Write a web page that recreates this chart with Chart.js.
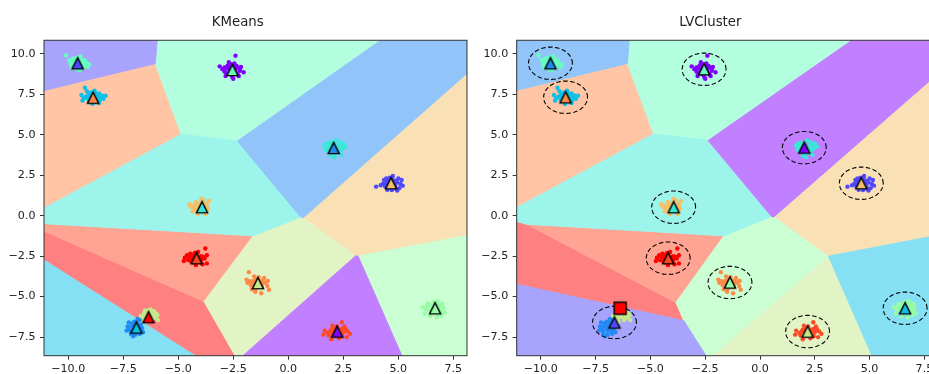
<!DOCTYPE html>
<html>
<head>
<meta charset="utf-8">
<script src="https://cdn.jsdelivr.net/npm/chart.js@4.4.1/dist/chart.umd.min.js"></script>
<style>
  html, body { margin: 0; padding: 0; background: #fff; overflow: hidden; width: 929px; height: 374px; }
  canvas { position: absolute; top: 0; }
  #km { left: 0; }
  #lv { left: 470px; }
</style>
</head>
<body>
<canvas id="km" width="475" height="374"></canvas>
<canvas id="lv" width="476" height="374"></canvas>
<script>
// ---- axes ----
const xLimits = [-11.10, 8.12];
const yLimits = [-8.65, 10.83];
const xTickValues = [-10, -7.5, -5, -2.5, 0, 2.5, 5, 7.5];
const xTickLabels = ['\u221210.0', '\u22127.5', '\u22125.0', '\u22122.5', '0.0', '2.5', '5.0', '7.5'];
const yTickValues = [-7.5, -5, -2.5, 0, 2.5, 5, 7.5, 10];
const yTickLabels = ['\u22127.5', '\u22125.0', '\u22122.5', '0.0', '2.5', '5.0', '7.5', '10.0'];

// rainbow colour per label 0..11
const palette = ['#8000ff', '#5148fc', '#238af5', '#0cc1e8', '#3ae8d7', '#68fcc1',
                 '#97fca7', '#c5e88a', '#f3c16a', '#ff8a48', '#ff4824', '#ff0000'];

// ---- samples, one array per true class ----
const class0 = [[-2.54,8.99],[-2.80,9.10],[-2.30,9.15],[-2.65,8.75],[-2.35,8.80],[-2.90,8.90],[-2.20,8.95],[-2.60,9.35],[-2.45,9.40],[-2.75,9.28],[-2.40,9.88],[-3.12,9.22],[-2.03,8.85],[-2.55,8.58],[-2.25,8.62],[-2.85,8.62],[-2.15,9.18],[-3.00,9.05],[-2.50,8.45],[-2.70,9.48],
                [-2.70,9.05],[-2.40,9.05],[-2.60,8.85],[-2.45,8.90],[-2.65,9.20],[-2.35,9.25],[-2.80,8.80],[-2.30,8.70],[-2.50,9.20],[-2.90,9.15],[-2.20,9.05],[-2.55,8.70]];
const class1 = [[4.67,2.00],[4.40,2.10],[4.90,2.15],[4.55,1.80],[4.85,1.75],[4.30,1.95],[5.10,1.95],[4.60,2.35],[4.75,2.45],[4.45,2.30],[5.15,2.20],[4.95,1.55],[4.50,1.60],[3.99,1.79],[4.20,1.88],[5.05,1.70],[4.80,2.05],[4.35,2.20],[4.70,1.58],[5.20,1.85],
                [4.55,2.05],[4.80,1.95],[4.60,1.90],[4.75,2.20],[4.45,2.00],[4.95,2.05],[4.65,2.15],[4.85,1.85],[4.40,1.80],[5.00,2.30],[4.55,2.20],[4.90,1.65]];
const class2 = [[-6.90,-6.91],[-7.10,-6.80],[-6.70,-6.75],[-7.20,-7.05],[-6.80,-7.15],[-7.00,-6.55],[-6.65,-6.95],[-7.30,-6.85],[-6.95,-7.35],[-7.15,-7.30],[-6.75,-6.45],[-6.60,-7.20],[-7.05,-7.45],[-7.25,-6.60],[-6.85,-6.38],[-7.35,-7.10],
                [-7.00,-6.95],[-6.80,-6.85],[-6.95,-7.10],[-6.85,-6.70],[-7.10,-6.65],[-6.70,-7.05],[-7.15,-7.15],[-6.90,-6.60],[-7.25,-6.90],[-6.75,-7.30],[-7.00,-6.75]];
const class3 = [[-8.87,7.28],[-9.10,7.40],[-8.65,7.45],[-9.30,7.25],[-8.95,7.60],[-8.70,7.05],[-9.05,7.05],[-8.50,7.30],[-9.40,7.45],[-9.24,7.90],[-8.80,7.72],[-8.30,7.41],[-8.55,7.15],[-9.15,7.68],[-8.90,6.90],[-8.60,6.95],[-9.35,7.10],[-8.40,7.22],[-8.75,7.55],[-9.00,7.35],
                [-8.95,7.20],[-8.80,7.35],[-9.05,7.50],[-8.70,7.25],[-9.20,7.35],[-8.60,7.55],[-8.85,7.10],[-9.10,7.20],[-8.65,7.30],[-8.95,7.45],[-8.45,7.40]];
const class4 = [[2.06,4.18],[1.80,4.30],[2.30,4.35],[1.90,3.95],[2.25,3.90],[1.70,4.10],[2.45,4.15],[2.05,4.55],[2.15,4.65],[1.85,4.50],[2.60,4.25],[2.40,3.75],[1.95,3.70],[2.10,3.60],[1.65,4.35],[2.50,4.45],[2.20,4.05],[1.90,4.20],
                [2.00,4.25],[2.15,4.10],[1.95,4.05],[2.25,4.25],[2.00,4.40],[2.35,4.05],[1.80,4.00],[2.10,3.85],[2.30,4.55],[1.75,4.45],[2.45,4.40]];
const class5 = [[-9.57,9.41],[-9.80,9.55],[-9.35,9.62],[-9.70,9.20],[-9.42,9.15],[-9.90,9.38],[-9.20,9.45],[-9.60,9.75],[-9.45,9.85],[-9.78,9.70],[-9.05,9.35],[-9.30,9.30],[-9.65,9.05],[-9.50,8.98],[-9.95,9.60],[-10.10,9.90],[-9.25,9.60],[-9.85,9.15],[-9.40,9.50],[-9.10,9.20],
                [-9.55,9.30],[-9.65,9.50],[-9.45,9.40],[-9.70,9.35],[-9.50,9.60],[-9.35,9.45],[-9.80,9.45],[-9.60,9.20],[-9.30,9.15],[-9.20,9.30],[-9.70,9.65]];
const class6 = [[6.67,-5.72],[6.40,-5.60],[6.90,-5.55],[6.25,-5.80],[6.55,-5.95],[6.85,-5.90],[6.10,-5.65],[7.05,-5.70],[6.60,-5.35],[6.80,-5.28],[6.35,-5.42],[7.00,-5.45],[6.45,-6.20],[6.75,-6.28],[6.20,-6.05],[7.10,-6.00],[6.95,-6.15],
                [6.60,-5.65],[6.75,-5.80],[6.50,-5.75],[6.80,-5.55],[6.55,-5.50],[6.90,-5.75],[6.65,-6.00],[6.40,-5.85],[6.95,-5.95],[6.30,-5.60],[6.70,-5.45]];
const class7 = [[-6.35,-6.27],[-6.55,-6.15],[-6.15,-6.10],[-6.60,-6.40],[-6.20,-6.45],[-6.40,-5.95],[-6.25,-5.80],[-6.05,-6.30],[-6.70,-6.20],[-5.95,-6.15],[-6.45,-6.55],[-6.50,-5.85],[-6.10,-5.90],[-5.92,-6.45],[-6.30,-6.05],
                [-6.30,-6.20],[-6.45,-6.30],[-6.25,-6.00],[-6.40,-6.10],[-6.15,-6.30],[-6.55,-6.00],[-6.35,-5.85],[-6.00,-6.05],[-6.60,-6.25]];
const class8 = [[-3.92,0.52],[-4.15,0.60],[-3.70,0.65],[-4.30,0.45],[-4.05,0.30],[-3.80,0.25],[-4.45,0.55],[-3.65,0.45],[-4.00,0.80],[-3.85,0.95],[-4.20,0.85],[-3.60,0.90],[-4.50,0.70],[-4.10,0.10],[-3.75,0.10],[-4.35,0.25],[-3.95,1.05],[-4.25,0.40],
                [-4.00,0.50],[-3.85,0.60],[-4.10,0.45],[-3.80,0.40],[-4.05,0.65],[-3.75,0.75],[-4.20,0.65],[-3.95,0.35],[-4.35,0.60],[-3.70,0.30],[-4.15,0.25]];
const class9 = [[-1.38,-4.17],[-1.60,-4.05],[-1.15,-4.00],[-1.70,-4.30],[-1.45,-4.45],[-1.20,-4.40],[-1.85,-4.15],[-0.93,-4.03],[-1.35,-3.80],[-1.55,-3.75],[-1.10,-3.85],[-1.79,-3.49],[-0.95,-4.35],[-1.50,-4.70],[-1.23,-4.79],[-0.88,-4.58],[-1.65,-4.55],[-1.90,-3.95],
                [-1.45,-4.10],[-1.30,-4.25],[-1.55,-4.25],[-1.25,-4.05],[-1.50,-3.95],[-1.20,-4.20],[-1.65,-4.15],[-1.35,-4.40],[-1.05,-4.15],[-1.40,-3.95],[-1.75,-4.05]];
const class10 = [[2.22,-7.16],[1.95,-7.05],[2.45,-7.00],[1.80,-7.25],[2.10,-7.40],[2.40,-7.35],[1.65,-7.10],[2.70,-7.15],[2.20,-6.85],[2.00,-6.80],[2.55,-6.85],[2.43,-6.58],[2.80,-7.30],[1.95,-7.64],[2.30,-7.58],[1.60,-7.35],[2.65,-7.50],[2.05,-7.30],
                 [2.15,-7.10],[2.30,-7.20],[2.05,-7.20],[2.35,-7.05],[2.10,-7.00],[2.50,-7.20],[1.90,-7.15],[2.25,-7.35],[2.60,-7.00],[1.85,-7.40],[2.45,-7.45]];
const class11 = [[-4.17,-2.63],[-4.40,-2.55],[-3.95,-2.50],[-4.55,-2.75],[-4.30,-2.90],[-4.00,-2.85],[-4.70,-2.60],[-3.80,-2.65],[-4.25,-2.30],[-4.10,-2.25],[-4.45,-2.35],[-3.70,-2.45],[-4.75,-2.80],[-4.20,-3.05],[-3.90,-3.00],[-3.77,-2.03],[-3.70,-2.95],[-4.60,-2.45],
                 [-4.25,-2.60],[-4.10,-2.70],[-4.35,-2.65],[-4.05,-2.55],[-4.30,-2.45],[-3.95,-2.70],[-4.50,-2.60],[-4.15,-2.85],[-3.85,-2.55],[-4.40,-2.85],[-4.20,-2.45]];
const samplesByClass = [class0, class1, class2, class3, class4, class5, class6, class7, class8, class9, class10, class11];

// ---- KMeans centres, indexed by predicted label ----
const kmeansCenters = [[2.22,-7.16],[-9.57,9.41],[2.06,4.18],[-6.90,-6.91],[-3.92,0.52],[-2.54,8.99],
                       [6.67,-5.72],[-1.38,-4.17],[4.67,2.00],[-8.87,7.28],[-4.17,-2.63],[-6.35,-6.27]];
const kmeansRadii = [0,0,0,0,0,0,0,0,0,0,0,0];

// ---- LVCluster centres and radii, indexed by predicted label ----
const lvCenters = [[2.02,4.20],[-6.64,-6.60],[-9.56,9.41],[6.62,-5.72],[-3.94,0.52],[-2.55,9.04],
                   [-1.37,-4.13],[2.17,-7.16],[4.62,2.00],[-8.87,7.31],[-4.19,-2.63],[-6.38,-5.72]];
const lvRadii = [1.0,1.0,1.0,1.0,1.0,1.0,1.0,1.0,1.0,1.0,1.0,0];

// ---- helpers ----
function overWhite(hex, a) {
  const n = parseInt(hex.slice(1), 16);
  const r = (n >> 16) & 255, g = (n >> 8) & 255, b = n & 255;
  const m = v => Math.round(v * a + 255 * (1 - a));
  return `rgb(${m(r)},${m(g)},${m(b)})`;
}

// half-plane clip: keep points with a*x + b*y <= c
function clipPoly(poly, a, b, c) {
  const out = [];
  for (let k = 0; k < poly.length; k++) {
    const P = poly[k], Q = poly[(k + 1) % poly.length];
    const fP = a * P[0] + b * P[1] - c, fQ = a * Q[0] + b * Q[1] - c;
    if (fP <= 0) out.push(P);
    if ((fP < 0 && fQ > 0) || (fP > 0 && fQ < 0)) {
      const t = fP / (fP - fQ);
      out.push([P[0] + t * (Q[0] - P[0]), P[1] + t * (Q[1] - P[1])]);
    }
  }
  return out;
}

// decision cell of label i: power distance |p-c|^2 - r^2 is smallest
function decisionCell(i, centers, radii) {
  let poly = [[xLimits[0], yLimits[0]], [xLimits[1], yLimits[0]], [xLimits[1], yLimits[1]], [xLimits[0], yLimits[1]]];
  const [cx, cy] = centers[i];
  centers.forEach(([qx, qy], j) => {
    if (j === i || poly.length === 0) return;
    const a = 2 * (qx - cx), b = 2 * (qy - cy);
    const c = qx * qx + qy * qy - cx * cx - cy * cy - radii[j] * radii[j] + radii[i] * radii[i];
    poly = clipPoly(poly, a, b, c);
  });
  return poly;
}

function markerIcon(color, shape) {
  const cv = document.createElement('canvas');
  cv.width = 18; cv.height = 18;
  const g = cv.getContext('2d');
  g.beginPath();
  if (shape === 'square') {
    g.rect(3, 3, 12, 12);
  } else {
    g.moveTo(9, 3.4); g.lineTo(3.4, 14.6); g.lineTo(14.6, 14.6); g.closePath();
  }
  g.fillStyle = color; g.fill();
  g.lineWidth = 1.4; g.strokeStyle = '#000'; g.lineJoin = 'miter'; g.stroke();
  return cv;
}

function circleOutline([cx, cy], r) {
  const pts = [];
  for (let k = 0; k <= 96; k++) {
    const t = (k / 96) * 2 * Math.PI;
    pts.push({ x: cx + r * Math.cos(t), y: cy + r * Math.sin(t) });
  }
  return pts;
}

const framePlugin = {
  id: 'frame',
  afterDatasetsDraw(chart) {
    const { ctx, chartArea: a } = chart;
    ctx.save();
    ctx.strokeStyle = '#333';
    ctx.lineWidth = 1;
    ctx.strokeRect(a.left, a.top, a.right - a.left, a.bottom - a.top);
    ctx.restore();
  }
};

function buildChart(canvasId, titleText, centers, radii, squareLabels, pad, yAxisWidth) {
  const datasets = [];
  centers.forEach((c, i) => {
    const cell = decisionCell(i, centers, radii);
    if (!cell.length) return;
    const fillColor = overWhite(palette[i], 0.5);
    datasets.push({
      type: 'line',
      data: cell.concat([cell[0]]).map(([x, y]) => ({ x, y })),
      fill: 'shape',
      backgroundColor: fillColor,
      borderColor: fillColor,
      borderWidth: 1,
      pointRadius: 0,
      tension: 0,
      order: 40
    });
  });
  samplesByClass.forEach((pts, k) => {
    datasets.push({
      type: 'scatter',
      data: pts.map(([x, y]) => ({ x, y })),
      backgroundColor: palette[k],
      borderWidth: 0,
      pointRadius: 2.2,
      order: 30
    });
  });
  centers.forEach((c, i) => {
    if (radii[i] <= 0) return;
    datasets.push({
      type: 'line',
      data: circleOutline(c, radii[i]),
      fill: false,
      borderColor: '#000',
      borderWidth: 1.1,
      borderDash: [4.5, 2.5],
      pointRadius: 0,
      tension: 0,
      order: 20
    });
  });
  datasets.push({
    type: 'scatter',
    data: centers.map(([x, y]) => ({ x, y })),
    pointStyle: centers.map((c, i) => markerIcon(palette[i], squareLabels.includes(i) ? 'square' : 'triangle')),
    pointRadius: 7,
    order: 10
  });

  const tickFont = { family: 'DejaVu Sans', size: 11.1 };
  return new Chart(document.getElementById(canvasId), {
    type: 'scatter',
    data: { datasets },
    plugins: [framePlugin],
    options: {
      responsive: false,
      animation: false,
      events: [],
      layout: { padding: { left: pad.left, right: pad.right, top: 0, bottom: 0 } },
      plugins: {
        legend: { display: false },
        tooltip: { enabled: false },
        title: {
          display: true,
          text: titleText,
          color: '#222',
          font: { family: 'DejaVu Sans', size: 13.3, weight: 'normal' },
          padding: { top: 15, bottom: 9.3 }
        }
      },
      scales: {
        x: {
          type: 'linear',
          min: xLimits[0], max: xLimits[1],
          afterBuildTicks: s => { s.ticks = xTickValues.map(v => ({ value: v })); },
          afterFit: s => { s.height = 18.3; },
          ticks: { autoSkip: false, maxRotation: 0, padding: 2.8, color: '#222', font: tickFont,
                   callback: (v, i) => xTickLabels[i] },
          grid: { drawOnChartArea: false, drawTicks: true, tickLength: 4, color: '#333', lineWidth: 1 },
          border: { display: false }
        },
        y: {
          type: 'linear',
          min: yLimits[0], max: yLimits[1],
          afterBuildTicks: s => { s.ticks = yTickValues.map(v => ({ value: v })); },
          afterFit: s => { s.width = yAxisWidth; },
          ticks: { autoSkip: false, padding: 4.5, color: '#222', font: tickFont,
                   callback: (v, i) => yTickLabels[i] },
          grid: { drawOnChartArea: false, drawTicks: true, tickLength: 4, color: '#333', lineWidth: 1 },
          border: { display: false }
        }
      }
    }
  });
}

buildChart('km', 'KMeans', kmeansCenters, kmeansRadii, [], { left: 7.7, right: 7.3 }, 36.3);
buildChart('lv', 'LVCluster', lvCenters, lvRadii, [11], { left: 10.2, right: 5.6 }, 36.5);
</script>
</body>
</html>
